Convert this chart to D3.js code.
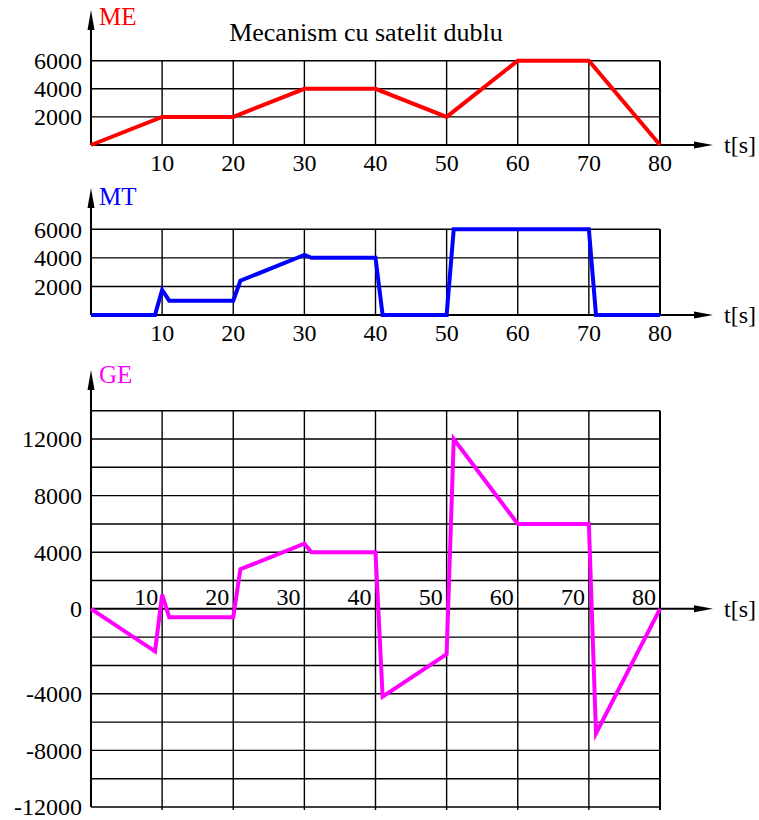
<!DOCTYPE html>
<html>
  <head>
    <meta charset="utf-8" />
    <title>Mecanism cu satelit dublu</title>
    <script src="https://d3js.org/d3.v7.min.js"></script>
    <style>
      body { margin: 0; background: #fff; }
      text { font-family: "Liberation Serif", "DejaVu Serif", serif; }
    </style>
  </head>
  <body>
    <svg width="759" height="820"></svg>

    <script>
      // Data
      var timeTicks = [10, 20, 30, 40, 50, 60, 70, 80];

      var meTime = [0, 10, 20, 30, 40, 50, 60, 70, 80];
      var meValues = [0, 2000, 2000, 4000, 4000, 2000, 6000, 6000, 0];

      var mtTime = [0, 9, 10, 11, 20, 21, 30, 31, 40, 41, 50, 51, 70, 71, 80];
      var mtValues = [0, 0, 1750, 1000, 1000, 2400, 4200, 4000, 4000, 0, 0, 6000, 6000, 0, 0];

      var geTime = [0, 9, 10, 11, 20, 21, 30, 31, 40, 41, 50, 51, 60, 70, 71, 80];
      var geValues = [0, -3000, 1000, -600, -600, 2800, 4600, 4000, 4000, -6200, -3200, 12000, 6000, 6000, -8800, 0];

      var smallTickValues = [6000, 4000, 2000];
      var smallTickLabels = ["6000", "4000", "2000"];

      // the GE labels below zero sit one grid step lower in the picture
      var geTickValues = [12000, 8000, 4000, 0, -6000, -10000, -14000];
      var geTickLabels = ["12000", "8000", "4000", "0", "-4000", "-8000", "-12000"];

      var svg = d3.select("svg");

      var x = d3.scaleLinear().domain([0, 80]).range([91, 660]);
      var xEnd = 713;

      var panels = [
        { name: "ME", color: "#ff0000", time: meTime, values: meValues,
          domain: [0, 6000], range: [145, 60.7], arrowTip: 10, labelY: 25,
          gridStep: 2000, tickValues: smallTickValues, tickLabels: smallTickLabels, xLabelsBelow: true },
        { name: "MT", color: "#0000ff", time: mtTime, values: mtValues,
          domain: [0, 6000], range: [315, 229.3], arrowTip: 188, labelY: 205,
          gridStep: 2000, tickValues: smallTickValues, tickLabels: smallTickLabels, xLabelsBelow: true },
        { name: "GE", color: "#ff00ff", time: geTime, values: geValues,
          domain: [-14000, 14000], range: [807, 410.7], arrowTip: 370, labelY: 383,
          gridStep: 2000, tickValues: geTickValues, tickLabels: geTickLabels, xLabelsBelow: false }
      ];

      function arrowUp(g, cx, tip) {
        g.append("path")
          .attr("d", "M" + cx + "," + tip + " L" + (cx - 3.5) + "," + (tip + 20) + " L" + (cx + 3.5) + "," + (tip + 20) + " Z")
          .attr("fill", "#000");
      }
      function arrowRight(g, tip, cy) {
        g.append("path")
          .attr("d", "M" + tip + "," + cy + " L" + (tip - 19) + "," + (cy - 3.5) + " L" + (tip - 19) + "," + (cy + 3.5) + " Z")
          .attr("fill", "#000");
      }

      // Title
      svg.append("text")
        .attr("x", 366)
        .attr("y", 41)
        .attr("text-anchor", "middle")
        .style("font-size", "26px")
        .text("Mecanism cu satelit dublu");

      panels.forEach(function (p) {
        var y = d3.scaleLinear().domain(p.domain).range(p.range);
        var g = svg.append("g");
        var y0 = y(0);
        var yTop = y(p.domain[1]);
        var yBottom = y(p.domain[0]);

        // horizontal grid
        var hLines = d3.range(p.domain[0], p.domain[1] + 1, p.gridStep).filter(function (v) { return v !== 0; });
        g.selectAll(".hgrid")
          .data(hLines)
          .enter()
          .append("line")
          .attr("x1", x(0))
          .attr("x2", x(80))
          .attr("y1", function (d) { return y(d); })
          .attr("y2", function (d) { return y(d); })
          .attr("stroke", "#000")
          .attr("stroke-width", 1.4);

        // vertical grid
        g.selectAll(".vgrid")
          .data(timeTicks)
          .enter()
          .append("line")
          .attr("x1", function (d) { return x(d); })
          .attr("x2", function (d) { return x(d); })
          .attr("y1", yTop)
          .attr("y2", p.xLabelsBelow ? yBottom : yBottom + 3)
          .attr("stroke", "#000")
          .attr("stroke-width", function (d) { return d === 80 ? 2 : 1.4; });

        // axes
        g.append("line")
          .attr("x1", x(0)).attr("x2", x(0))
          .attr("y1", yBottom).attr("y2", p.arrowTip + 10)
          .attr("stroke", "#000").attr("stroke-width", 2);
        arrowUp(g, x(0), p.arrowTip);

        g.append("line")
          .attr("x1", x(0)).attr("x2", xEnd - 10)
          .attr("y1", y0).attr("y2", y0)
          .attr("stroke", "#000").attr("stroke-width", 2);
        arrowRight(g, xEnd, y0);

        g.append("text")
          .attr("x", 724)
          .attr("y", y0 + 8)
          .style("font-size", "24px")
          .text("t[s]");

        // y tick labels
        g.selectAll(".ylab")
          .data(p.tickValues)
          .enter()
          .append("text")
          .attr("x", 82)
          .attr("y", function (d) { return y(d); })
          .attr("dy", "0.35em")
          .attr("text-anchor", "end")
          .style("font-size", "24px")
          .text(function (d, i) { return p.tickLabels[i]; });

        // x tick labels
        g.selectAll(".xlab")
          .data(timeTicks)
          .enter()
          .append("text")
          .attr("x", function (d) { return p.xLabelsBelow ? x(d) : x(d) - 4; })
          .attr("y", p.xLabelsBelow ? y0 + 26 : y0 - 4)
          .attr("text-anchor", p.xLabelsBelow ? "middle" : "end")
          .style("font-size", "24px")
          .text(function (d) { return d; });

        // series name
        g.append("text")
          .attr("x", 99)
          .attr("y", p.labelY)
          .attr("fill", p.color)
          .style("font-size", "25px")
          .text(p.name);

        // series line
        var line = d3.line()
          .x(function (d, i) { return x(p.time[i]); })
          .y(function (d) { return y(d); });

        g.append("path")
          .datum(p.values)
          .attr("d", line)
          .attr("fill", "none")
          .attr("stroke", p.color)
          .attr("stroke-width", 4)
          .attr("stroke-linejoin", "miter");
      });
    </script>
  </body>
</html>
